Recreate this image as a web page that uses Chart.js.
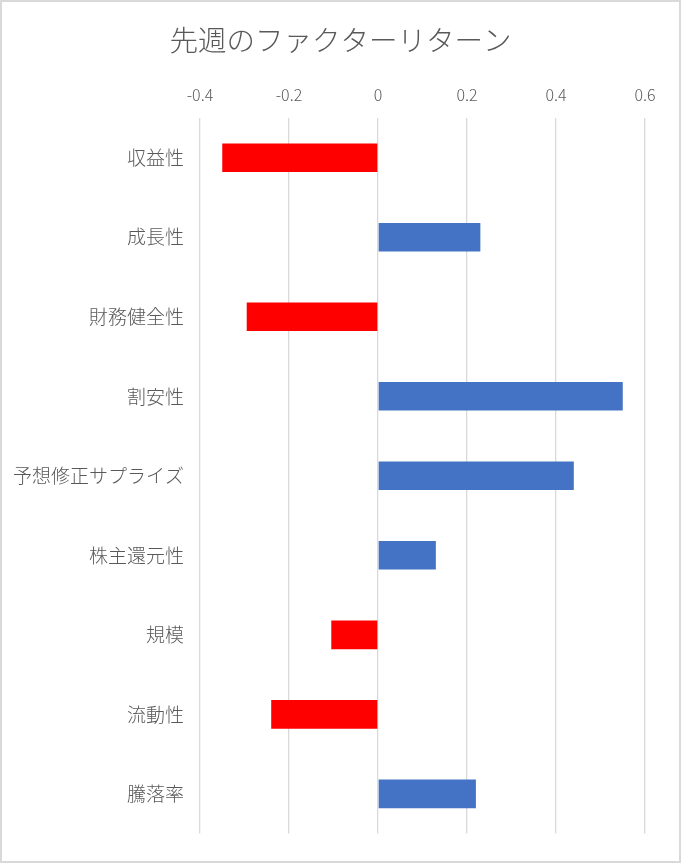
<!DOCTYPE html>
<html>
<head>
<meta charset="utf-8">
<script src="https://cdn.jsdelivr.net/npm/chart.js@4/dist/chart.umd.min.js"></script>
<style>
  html, body { margin: 0; padding: 0; background: #fff; }
  #wrap {
    position: absolute; left: 0; top: 0;
    width: 681px; height: 863px;
    box-sizing: border-box;
    border: 2px solid #d9d9d9;
  }
</style>
</head>
<body>
<div id="wrap"><canvas id="factor-return" width="677" height="859"></canvas></div>
<script>
// factor names and last week's returns
const factorLabels = [
    '収益性',
    '成長性',
    '財務健全性',
    '割安性',
    '予想修正サプライズ',
    '株主還元性',
    '規模',
    '流動性',
    '騰落率',
];
const factorReturns = [-0.35, 0.23, -0.295, 0.55, 0.44, 0.13, -0.105, -0.24, 0.22];
const xTicks = [-0.4, -0.2, 0, 0.2, 0.4, 0.6];

const fontFamily = '"Noto Sans CJK JP", "Noto Sans", sans-serif';
const textColor = '#595959';

const dataFR = {
    labels: factorLabels,
    datasets: [{
        label: '先週のファクターリターン',
        data: factorReturns,
        backgroundColor: ctx => ctx.raw < 0 ? '#ff0000' : '#4472c4',
        borderWidth: 0,
        categoryPercentage: 1,
        barPercentage: 0.36
    }]
};
const configFR = {
    type: 'bar',
    data: dataFR,
    options: {
        indexAxis: 'y',
        responsive: false,
        animation: false,
        layout: {
            padding: { left: 0, right: 0, top: 0, bottom: 23 }
        },
        plugins: {
            legend: { display: false },
            tooltip: { enabled: false },
            title: {
                display: true,
                text: '先週のファクターリターン',
                color: textColor,
                font: { family: fontFamily, size: 28.5, weight: 300 },
                padding: { top: 21, bottom: 10 }
            }
        },
        scales: {
            x: {
                position: 'top',
                min: -0.4,
                max: 0.6,
                afterBuildTicks: axis => {
                    axis.ticks = xTicks.map(v => ({ value: v }));
                },
                afterFit: axis => { axis.height = 116 - 65.2; },
                border: { display: false },
                grid: { color: '#d9d9d9', lineWidth: 1.3, drawTicks: false },
                ticks: {
                    color: textColor,
                    padding: 13,
                    font: { family: fontFamily, size: 16, weight: 300 },
                    callback: v => String(Math.round(v * 10) / 10)
                }
            },
            y: {
                afterFit: axis => { axis.width = 198; },
                border: { display: false },
                grid: { display: false, drawTicks: false },
                ticks: {
                    color: textColor,
                    padding: 16,
                    font: { family: fontFamily, size: 19, weight: 300 }
                }
            },
            // empty right-hand spacer so the title stays centred on the page
            yRight: {
                type: 'category',
                position: 'right',
                afterFit: axis => { axis.width = 34; },
                border: { display: false },
                grid: { display: false, drawTicks: false },
                ticks: { display: false }
            }
        }
    }
};
const ChartFR = new Chart(
    document.getElementById('factor-return'),
    configFR
);
</script>
</body>
</html>
